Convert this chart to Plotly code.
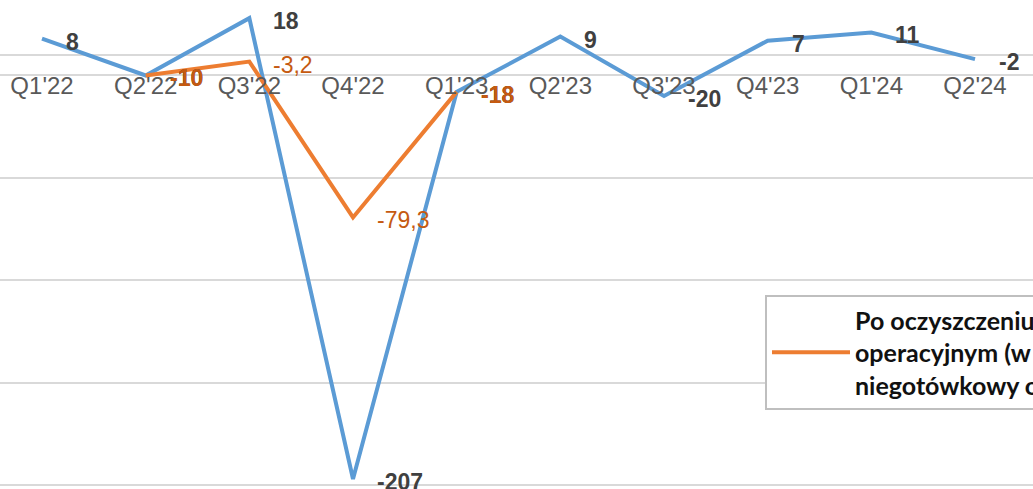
import plotly.graph_objects as go

# ── Data ─────────────────────────────────────────────────────────────────────
QUARTERS = ["Q1'22", "Q2'22", "Q3'22", "Q4'22", "Q1'23",
            "Q2'23", "Q3'23", "Q4'23", "Q1'24", "Q2'24"]
REPORTED = [8, -10, 18, -207, -18, 9, -20, 7, 11, -2]

ADJ_QUARTERS = ["Q2'22", "Q3'22", "Q4'22", "Q1'23"]
ADJUSTED = [-10, -3.2, -79.3, -18]
ADJ_BOLD = [True, False, False, True]

ADJ_NAME = ("Po oczyszczeniu o zdarzenia jednorazowe<br>"
            "operacyjnym (w tym odpis<br>"
            "niegotówkowy oraz rezerwy)")

# ── Theme ────────────────────────────────────────────────────────────────────
BLUE = "#5B9BD5"
ORANGE = "#ED7D31"
ORANGE_TXT = "#C55A11"
LABEL_CLR = "#404040"
TICK_CLR = "#595959"
GRID_CLR = "#D9D9D9"
FONT = "Liberation Sans, Arial, sans-serif"


def fmt(v):
    return f"{v:g}".replace(".", ",")


def data_label(x, y, text, color):
    # Excel-style "right" data label
    return dict(x=x, y=y, xref="x", yref="y", text=text, showarrow=False,
                xanchor="left", yanchor="middle", xshift=22, yshift=-3,
                font=dict(family=FONT, size=23, color=color))


fig = go.Figure()

fig.add_trace(go.Scatter(
    x=QUARTERS, y=REPORTED, mode="lines",
    line=dict(color=BLUE, width=4),
    showlegend=False, name="Raportowane",
))
fig.add_trace(go.Scatter(
    x=ADJ_QUARTERS, y=ADJUSTED, mode="lines",
    line=dict(color=ORANGE, width=4),
    name=ADJ_NAME,
))

labels = [data_label(q, v, f"<b>{fmt(v)}</b>", LABEL_CLR)
          for q, v in zip(QUARTERS, REPORTED)]
labels += [data_label(q, v, f"<b>{fmt(v)}</b>" if b else fmt(v), ORANGE_TXT)
           for q, v, b in zip(ADJ_QUARTERS, ADJUSTED, ADJ_BOLD)]

W, H = 1033, 489
px_per_cat = (975 - 42) / 9
x0 = -42 / px_per_cat
x1 = 9 + (W - 975) / px_per_cat
px_per_unit = 2.048
y_top = 55 / px_per_unit
y_bot = -(H - 55) / px_per_unit

fig.update_layout(
    width=W, height=H,
    margin=dict(l=0, r=0, t=0, b=0, autoexpand=False),
    paper_bgcolor="white",
    plot_bgcolor="white",
    font=dict(family=FONT, color=TICK_CLR),
    annotations=labels,
    legend=dict(
        x=765 / W, xanchor="left",
        y=1 - 295 / H, yanchor="top",
        bgcolor="white",
        bordercolor="#BFBFBF", borderwidth=2,
        font=dict(family="Lato, sans-serif", size=25, color="#111111", weight="bold"),
        itemwidth=78,
        tracegroupgap=0,
    ),
    hovermode=False,
)

fig.update_xaxes(
    type="category",
    range=[x0, x1],
    showgrid=False,
    showline=False,
    ticks="",
    anchor="free",
    position=1 - 55 / H,
    ticklabelstandoff=14,
    tickfont=dict(family=FONT, size=24, color=TICK_CLR),
)

fig.update_yaxes(
    range=[y_bot, y_top],
    tick0=-10, dtick=50,
    showgrid=True, gridcolor=GRID_CLR, gridwidth=1.5,
    zeroline=True, zerolinecolor=GRID_CLR, zerolinewidth=1.5,
    showticklabels=False,
    ticks="",
)

fig.write_html("out.html", config={"displayModeBar": False},
               post_script="document.body.style.margin='0';")
